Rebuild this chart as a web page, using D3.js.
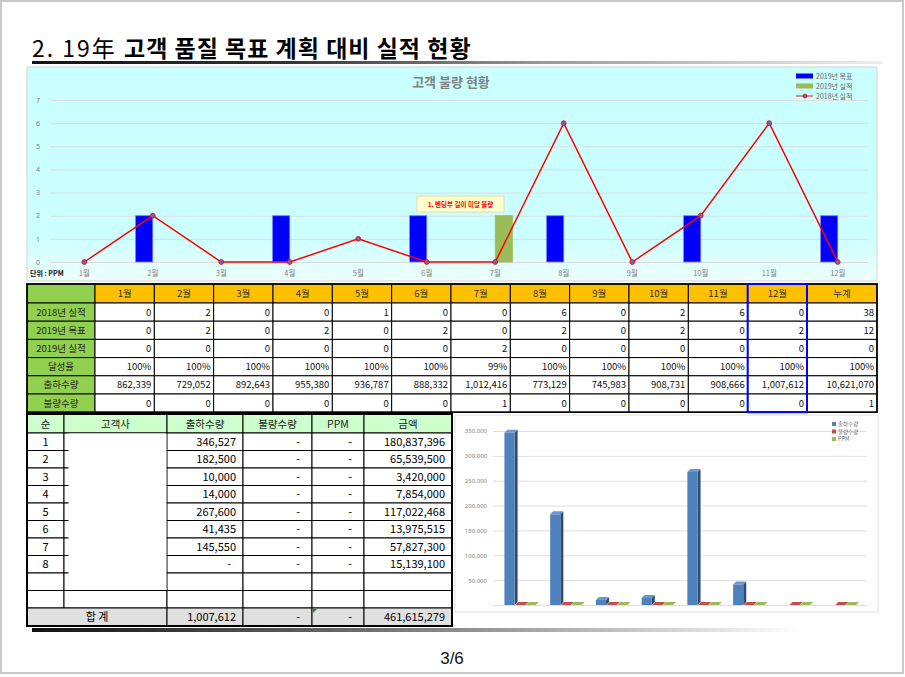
<!DOCTYPE html>
<html>
<head>
<meta charset="utf-8">
<script src="https://cdn.jsdelivr.net/npm/d3@7"></script>
<style>
  body { margin: 0; background: #fff; }
  svg { display: block; font-family: "Noto Sans CJK KR", "Noto Sans", sans-serif; }
</style>
</head>
<body>
<svg id="page" width="905" height="677"></svg>
<script>
// ---- data ----
var months = ["1월", "2월", "3월", "4월", "5월", "6월", "7월", "8월", "9월", "10월", "11월", "12월"];
var actual2018 = [0, 2, 0, 0, 1, 0, 0, 6, 0, 2, 6, 0];
var target2019 = [0, 2, 0, 2, 0, 2, 0, 2, 0, 2, 0, 2];
var actual2019 = [0, 0, 0, 0, 0, 0, 2, 0, 0, 0, 0, 0];
var achieveRate = ["100%", "100%", "100%", "100%", "100%", "100%", "99%", "100%", "100%", "100%", "100%", "100%"];
var shipQty = [862339, 729052, 892643, 955380, 936787, 888332, 1012416, 773129, 745983, 908731, 908666, 1007612];
var defectQty = [0, 0, 0, 0, 0, 0, 1, 0, 0, 0, 0, 0];
var rowLabels = ["2018년 실적", "2019년 목표", "2019년 실적", "달성율", "출하수량", "불량수량"];
var rowTotals = [38, 12, 0, "100%", 10621070, 1];
var yTicks = [0, 1, 2, 3, 4, 5, 6, 7];
var legendTop = ["2019년 목표", "2019년 실적", "2018년 실적"];
var note = "1. 벤딩부 길이 미달 불량";

var custHeaders = ["순", "고객사", "출하수량", "불량수량", "PPM", "금액"];
var custRank = [1, 2, 3, 4, 5, 6, 7, 8];
var custShip = [346527, 182500, 10000, 14000, 267600, 41435, 145550, null];
var custDefect = [null, null, null, null, null, null, null, null];
var custPpm = [null, null, null, null, null, null, null, null];
var custAmount = [180837396, 65539500, 3420000, 7854000, 117022468, 13975515, 57827300, 15139100];
var custTotal = ["합 계", 1007612, null, null, 461615279];

// values drawn in the small 3D chart (groups 7 and 8 show no shipment bar there)
var barShip = [346527, 182500, 10000, 14000, 267600, 41435, null, null];
var barDefect = [0, 0, 0, 0, 0, 0, 0, 0];
var barPpm = [0, 0, 0, 0, 0, 0, 0, 0];
var barTicks = [50000, 100000, 150000, 200000, 250000, 300000, 350000];
var legendBottom = ["출하수량", "불량수량", "PPM"];

var fmt = d3.format(",");
var svg = d3.select("#page");
var defs = svg.append("defs");

function gradient(id, stops, vertical) {
    var g = defs.append("linearGradient").attr("id", id)
        .attr("x1", 0).attr("y1", 0)
        .attr("x2", vertical ? 0 : 1).attr("y2", vertical ? 1 : 0);
    stops.forEach(function (s) {
        g.append("stop").attr("offset", s[0]).attr("stop-color", s[1]);
    });
}
gradient("rule", [[0, "#111"], [0.3, "#333"], [0.6, "#999"], [1, "#eee"]]);
gradient("rule2", [[0, "#111"], [0.4, "#666"], [0.8, "#ccc"], [1, "#fff"]]);
gradient("panel", [[0, "#c9ffff"], [0.8, "#ccffff"], [1, "#effffe"]], true);

// page frame
svg.append("rect").attr("x", 1).attr("y", 1).attr("width", 902).attr("height", 672)
    .attr("fill", "#fff").attr("stroke", "#c8c8c8").attr("stroke-width", 2);

// ---- title ----
var title = svg.append("text").attr("x", 32).attr("y", 57).attr("font-size", 23).attr("fill", "#000");
title.append("tspan").text("2. 19年 ").attr("letter-spacing", 2);
title.append("tspan").text("고객 품질 목표 계획 대비 실적 현황").attr("font-weight", "bold").attr("letter-spacing", 1);
svg.append("rect").attr("x", 32).attr("y", 61).attr("width", 850).attr("height", 3).attr("fill", "url(#rule)");

// ---- top chart ----
var topChart = svg.append("g");
topChart.append("rect").attr("x", 27).attr("y", 67).attr("width", 850).attr("height", 214)
    .attr("fill", "url(#panel)").attr("stroke", "#d4d4d4");

var x0 = d3.scaleBand().domain(months).range([50, 872]);
var x1 = d3.scaleBand().domain(["target", "actual"])
    .range([x0.bandwidth() * 0.25, x0.bandwidth() * 0.75]);
var y = d3.scaleLinear().domain([0, 7]).range([262, 100]);

var yAxis = topChart.append("g").attr("transform", "translate(50,0)")
    .call(d3.axisLeft(y).tickValues(yTicks).tickFormat(d3.format("d")).tickSize(-818).tickPadding(10));
yAxis.select(".domain").remove();
yAxis.selectAll("line").attr("stroke", "#dcdcdc");
yAxis.selectAll("text").attr("font-size", 7).attr("fill", "#7f7f7f").attr("font-family", "Noto Sans");

topChart.append("text").attr("x", 451).attr("y", 87).attr("text-anchor", "middle")
    .attr("font-size", 13).attr("font-weight", "bold").attr("fill", "#808080").text("고객 불량 현황");

// grouped bars
var barData = [];
months.forEach(function (m, i) {
    barData.push({ m: m, key: "target", v: target2019[i] });
    barData.push({ m: m, key: "actual", v: actual2019[i] });
});
topChart.selectAll("rect.bar").data(barData.filter(function (d) { return d.v > 0; }))
    .enter().append("rect").attr("class", "bar")
    .attr("x", function (d) { return x0(d.m) + x1(d.key); })
    .attr("width", x1.bandwidth())
    .attr("y", function (d) { return y(d.v); })
    .attr("height", function (d) { return y(0) - y(d.v); })
    .attr("fill", function (d) { return d.key === "target" ? "#0000ff" : "#9bbb59"; })
    .attr("stroke", function (d) { return d.key === "target" ? "#7d7dff" : "#9bbb59"; })
    .attr("stroke-width", 0.8);

// 2018 line
var cx = function (m) { return x0(m) + x0.bandwidth() / 2; };
topChart.append("path").datum(actual2018)
    .attr("d", d3.line().x(function (d, i) { return cx(months[i]); }).y(function (d) { return y(d); }))
    .attr("fill", "none").attr("stroke", "#ff0000").attr("stroke-width", 1.5);
topChart.selectAll("circle.pt").data(actual2018).enter().append("circle").attr("class", "pt")
    .attr("cx", function (d, i) { return cx(months[i]); })
    .attr("cy", function (d) { return y(d); })
    .attr("r", 2.4).attr("fill", "#5b6fc4").attr("stroke", "#ff0000").attr("stroke-width", 0.9);

topChart.selectAll("text.month").data(months).enter().append("text").attr("class", "month")
    .attr("x", cx).attr("y", 276).attr("text-anchor", "middle")
    .attr("font-size", 7.5).attr("fill", "#7f7f7f").text(function (d) { return d; });
topChart.append("text").attr("x", 30).attr("y", 276).attr("font-size", 7).attr("font-weight", "bold")
    .attr("fill", "#111").text("단위 : PPM");

// legend
var lg = topChart.selectAll("g.lg").data(legendTop).enter().append("g").attr("class", "lg")
    .attr("transform", function (d, i) { return "translate(796," + (76 + i * 10) + ")"; });
lg.each(function (d, i) {
    var g = d3.select(this);
    if (i < 2) {
        g.append("rect").attr("x", 0).attr("y", -2.5).attr("width", 17).attr("height", 5)
            .attr("fill", i === 0 ? "#0000ff" : "#9bbb59");
    } else {
        g.append("line").attr("x1", 0).attr("x2", 17).attr("stroke", "#e06666").attr("stroke-width", 1.5);
        g.append("circle").attr("cx", 9).attr("r", 2).attr("fill", "#5b6fc4").attr("stroke", "#ff0000").attr("stroke-width", 0.8);
    }
    g.append("text").attr("x", 20).attr("y", 2.5).attr("font-size", 7).attr("fill", "#666").text(d);
});

// note box
topChart.append("rect").attr("x", 417).attr("y", 196).attr("width", 87).attr("height", 16)
    .attr("fill", "#ffffcc").attr("stroke", "#e6dca8");
topChart.append("text").attr("x", 460.5).attr("y", 206.5).attr("text-anchor", "middle")
    .attr("font-size", 6.5).attr("font-weight", "bold").attr("fill", "#ff0000").text(note);

// ---- monthly table ----
var tTop = 284, headH = 19, rowH = 18.2;
var xm = d3.scaleBand().domain(months).range([95, 807]);
var tbl = svg.append("g").attr("font-size", 9.5);
var rowValues = [actual2018, target2019, actual2019, achieveRate, shipQty, defectQty];

function cell(g, x, yy, w, h, fill) {
    g.append("rect").attr("x", x).attr("y", yy).attr("width", w).attr("height", h)
        .attr("fill", fill).attr("stroke", "#000").attr("stroke-width", 1);
}

cell(tbl, 27, tTop, 68, headH, "#92d050");
months.forEach(function (m) { cell(tbl, xm(m), tTop, xm.bandwidth(), headH, "#ffc000"); });
cell(tbl, 807, tTop, 70, headH, "#ffc000");
tbl.selectAll("text.hd").data(months.concat(["누계"])).enter().append("text").attr("class", "hd")
    .attr("x", function (d) { return d === "누계" ? 842 : xm(d) + xm.bandwidth() / 2; })
    .attr("y", tTop + headH / 2 + 3.5).attr("text-anchor", "middle").attr("fill", "#333")
    .text(function (d) { return d; });

rowLabels.forEach(function (label, r) {
    var yy = tTop + headH + r * rowH;
    cell(tbl, 27, yy, 68, rowH, "#92d050");
    tbl.append("text").attr("x", 61).attr("y", yy + rowH / 2 + 3.5).attr("text-anchor", "middle")
        .attr("fill", "#222").text(label);
    var vals = rowValues[r].concat([rowTotals[r]]);
    vals.forEach(function (v, i) {
        var x = i < 12 ? xm(months[i]) : 807;
        var w = i < 12 ? xm.bandwidth() : 70;
        cell(tbl, x, yy, w, rowH, "#fff");
        tbl.append("text").attr("x", x + w - 3).attr("y", yy + rowH / 2 + 3.5).attr("text-anchor", "end")
            .attr("fill", "#111").text(typeof v === "number" ? fmt(v) : v);
    });
});
tbl.append("rect").attr("x", 27).attr("y", tTop).attr("width", 850).attr("height", headH + 6 * rowH)
    .attr("fill", "none").attr("stroke", "#000").attr("stroke-width", 1.6);
// December highlight
tbl.append("rect").attr("x", xm("12월")).attr("y", tTop).attr("width", xm.bandwidth()).attr("height", headH + 6 * rowH)
    .attr("fill", "none").attr("stroke", "#0000ff").attr("stroke-width", 2);

// ---- customer table ----
var cTop = 414, cHead = 19, cRow = 17.5;
var colEdges = [27, 64, 167, 243, 312, 364, 452];
var ct = svg.append("g").attr("font-size", 11);
custHeaders.forEach(function (h, i) {
    cell(ct, colEdges[i], cTop, colEdges[i + 1] - colEdges[i], cHead, "#ccffcc");
    ct.append("text").attr("x", (colEdges[i] + colEdges[i + 1]) / 2).attr("y", cTop + cHead / 2 + 4)
        .attr("text-anchor", "middle").attr("fill", "#222").attr("font-size", 10.5).text(h);
});

var custRows = d3.range(10).map(function (r) {
    return r < 8 ? [custRank[r], "", custShip[r], custDefect[r], custPpm[r], custAmount[r]] : ["", "", "", "", "", ""];
});
custRows.forEach(function (row, r) {
    var yy = cTop + cHead + r * cRow;
    row.forEach(function (v, i) {
        var x = colEdges[i], w = colEdges[i + 1] - x;
        cell(ct, x, yy, w, cRow, "#fff");
        if (r >= 8) return;
        if (i === 0) {
            ct.append("text").attr("x", x + w / 2).attr("y", yy + cRow / 2 + 4).attr("text-anchor", "middle").text(v);
        } else if (i > 1) {
            ct.append("text").attr("x", x + w - (v === null ? 12 : 7)).attr("y", yy + cRow / 2 + 4)
                .attr("text-anchor", "end").text(v === null ? "-" : fmt(v));
        }
    });
});
// blanked customer names
ct.append("rect").attr("x", 68.5).attr("y", cTop + cHead + 0.5).attr("width", 98)
    .attr("height", 9 * cRow - 1).attr("fill", "#fff");

var totY = cTop + cHead + 10 * cRow, totH = 626 - totY;
cell(ct, 27, totY, 140, totH, "#e0e0e0");
ct.append("text").attr("x", 97).attr("y", totY + totH / 2 + 4).attr("text-anchor", "middle").text(custTotal[0]);
custTotal.slice(1).forEach(function (v, k) {
    var i = k + 2, x = colEdges[i], w = colEdges[i + 1] - x;
    cell(ct, x, totY, w, totH, "#e0e0e0");
    ct.append("text").attr("x", x + w - (v === null ? 12 : 7)).attr("y", totY + totH / 2 + 4)
        .attr("text-anchor", "end").text(v === null ? "-" : fmt(v));
});
ct.append("path").attr("d", "M313,609 l4,0 l-4,4 z").attr("fill", "#208020");
ct.append("rect").attr("x", 27).attr("y", cTop).attr("width", 425).attr("height", 626 - cTop)
    .attr("fill", "none").attr("stroke", "#000").attr("stroke-width", 2);
svg.append("rect").attr("x", 32).attr("y", 628).attr("width", 770).attr("height", 4).attr("fill", "url(#rule2)");

// ---- 3D column chart ----
var bc = svg.append("g");
bc.append("rect").attr("x", 455).attr("y", 415).attr("width", 423).attr("height", 197)
    .attr("fill", "#fff").attr("stroke", "#e0e0e0");
var gx = d3.scaleBand().domain(custRank).range([493, 868]).paddingInner(0.3).paddingOuter(0.25);
var sx = d3.scaleBand().domain(["ship", "defect", "ppm"]).range([0, gx.bandwidth()]);
var by = d3.scaleLinear().domain([0, 350000]).range([605, 431]);

var bAxis = bc.append("g").attr("transform", "translate(493,0)")
    .call(d3.axisLeft(by).tickValues([0].concat(barTicks)).tickSize(-374).tickPadding(6).tickFormat(function (d) { return d ? fmt(d) : ""; }));
bAxis.select(".domain").remove();
bAxis.selectAll("line").attr("stroke", "#dedede");
bAxis.selectAll("text").attr("font-size", 6).attr("fill", "#7f7f7f").attr("font-family", "Noto Sans");

var depth = 3;
var seriesColors = {
    ship: ["#4f81bd", "#2c4d75", "#6d96cc"],
    defect: ["#c0504d", "#7f2e2c", "#c0504d"],
    ppm: ["#9bbb59", "#5f7530", "#9bbb59"]
};
var cols = [];
custRank.forEach(function (c, i) {
    cols.push({ g: c, key: "ship", v: barShip[i] });
    cols.push({ g: c, key: "defect", v: barDefect[i] });
    cols.push({ g: c, key: "ppm", v: barPpm[i] });
});
cols.filter(function (d) { return d.v !== null; }).forEach(function (d) {
    var x = gx(d.g) + sx(d.key), w = sx.bandwidth() - 0.5, y0 = by(0), y1 = by(d.v);
    var c = seriesColors[d.key];
    if (d.v > 0) {
        bc.append("path").attr("d", "M" + (x + w) + "," + y1 + " l" + depth + "," + (-depth) +
            " L" + (x + w + depth) + "," + (y0 - depth) + " L" + (x + w) + "," + y0 + "Z").attr("fill", c[1]);
        bc.append("rect").attr("x", x).attr("y", y1).attr("width", w).attr("height", y0 - y1).attr("fill", c[0]);
    }
    bc.append("path").attr("d", "M" + x + "," + y1 + " l" + depth + "," + (-depth) + " l" + w + ",0 l" + (-depth) + "," + depth + "Z")
        .attr("fill", d.v > 0 ? c[2] : c[0]);
});

var blg = bc.selectAll("g.blg").data(legendBottom).enter().append("g").attr("class", "blg")
    .attr("transform", function (d, i) { return "translate(832," + (424 + i * 7.5) + ")"; });
blg.append("rect").attr("x", 0).attr("y", -2).attr("width", 4).attr("height", 4)
    .attr("fill", function (d, i) { return seriesColors[["ship", "defect", "ppm"][i]][0]; });
blg.append("text").attr("x", 6).attr("y", 2).attr("font-size", 5.5).attr("fill", "#666").text(function (d) { return d; });

// ---- page number ----
svg.append("text").attr("x", 452).attr("y", 664).attr("text-anchor", "middle")
    .attr("font-family", "Liberation Sans Narrow, Liberation Sans, sans-serif").attr("font-size", 17)
    .attr("fill", "#111").text("3/6");
</script>
</body>
</html>
